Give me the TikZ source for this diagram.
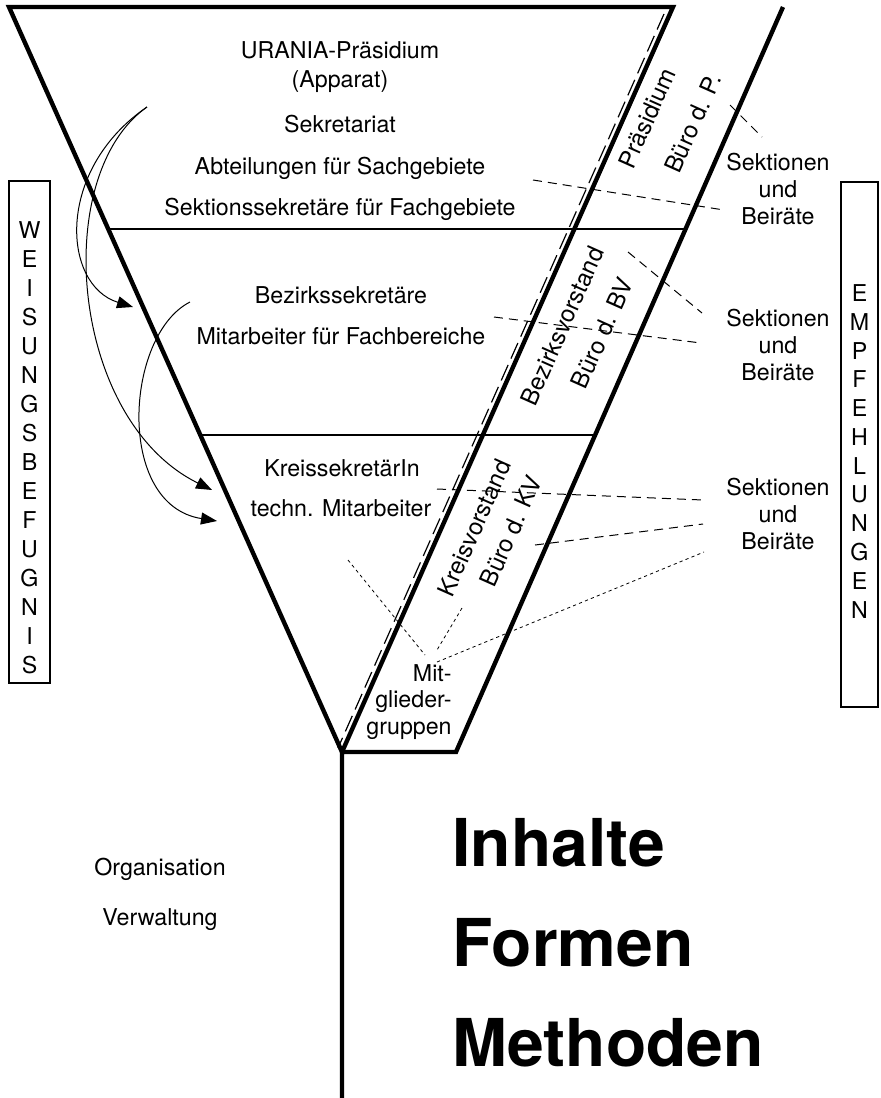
\documentclass[tikz,border=0pt]{standalone}
\usepackage{fontspec}
\setmainfont{TeX Gyre Heros}
\usetikzlibrary{arrows.meta, calc}

\begin{document}
\begin{tikzpicture}[x = 0.5pt, y = -0.5pt,
	every node/.style = {inner sep = 0pt, font = \fontsize{11.6}{13.3}\selectfont},
	funnel/.style = {line width = 2.2pt, line join = miter},
	level/.style = {line width = 1.3pt},
	frame/.style = {line width = 1pt},
	guide/.style = {line width = 0.6pt, dash pattern = on 8.5pt off 3.5pt},
	ratline/.style = {line width = 0.5pt, dash pattern = on 4.5pt off 3pt},
	ratdots/.style = {line width = 0.4pt, dash pattern = on 1.6pt off 1.6pt},
	order/.style = {line width = 0.5pt, -{Triangle[length = 8pt, width = 6pt]}},
	band/.style = {rotate = 66, font = \fontsize{12}{14}\selectfont},
	title/.style = {anchor = base west, font = \fontsize{33}{40}\selectfont\bfseries}]

	\useasboundingbox (0, 0) rectangle (880, 1098);

	% funnel
	\coordinate (tl) at (9, 7);
	\coordinate (tr) at (673, 7);
	\coordinate (tro) at (783, 7);
	\coordinate (v) at (342, 752);
	\coordinate (vr) at (456, 752);
	\coordinate (stem) at (342, 1098);

	\draw [funnel] (tl) -- (tr) -- (v) -- cycle;
	\draw [funnel] (tro) -- (vr) -- (v) -- (stem);
	\draw [level] ($(tl)!0.298!(v)$) -- ($(tro)!0.298!(vr)$);
	\draw [level] ($(tl)!0.5745!(v)$) -- ($(tro)!0.5745!(vr)$);
	\draw [guide] (664, 14) -- (338, 748);

	% levels
	\node [anchor = base] (praes) at (340, 58) {URANIA-Präsidium};
	\node [anchor = base] (apparat) at (340, 87) {(Apparat)};
	\node [anchor = base] (sekretariat) at (340, 132) {Sekretariat};
	\node [anchor = base] (abteilungen) at (340, 174) {Abteilungen für Sachgebiete};
	\node [anchor = base] (sektsek) at (340, 215) {Sektionssekretäre für Fachgebiete};
	\node [anchor = base] (bezsek) at (341, 303) {Bezirkssekretäre};
	\node [anchor = base] (mitfach) at (341, 344) {Mitarbeiter für Fachbereiche};
	\node [anchor = base] (kreissek) at (342, 476) {KreissekretärIn};
	\node [anchor = base] (techn) at (341, 516) {techn. Mitarbeiter};
	\node [anchor = north east, align = right] (mitglied) at (452, 664) {Mit-\\glieder-\\gruppen};

	\node [band] (praesband) at (647, 118) {Präsidium};
	\node [band] (bueroP) at (693, 123) {Büro d. P.};
	\node [band] (bezvor) at (562, 326) {Bezirksvorstand};
	\node [band] (bueroBV) at (602, 333) {Büro d. BV};
	\node [band] (kreisvor) at (474, 528) {Kreisvorstand};
	\node [band] (bueroKV) at (511, 531) {Büro d. KV};

	\node [align = center] (sek1) at (778, 189) {Sektionen\\und\\Beiräte};
	\node [align = center] (sek2) at (778, 345) {Sektionen\\und\\Beiräte};
	\node [align = center] (sek3) at (778, 514) {Sektionen\\und\\Beiräte};

	% side boxes
	\draw [frame] (9, 181) rectangle (50, 683);
	\foreach \ch [count = \i from 0] in {W, E, I, S, U, N, G, S, B, E, F, U, G, N, I, S}
		\node (weis\i) at (29.5, {230 + 29*\i}) {\ch};
	\draw [frame] (841, 182) rectangle (878, 707);
	\foreach \ch [count = \i from 0] in {E, M, P, F, E, H, L, U, N, G, E, N}
		\node (empf\i) at (859.5, {293 + 28.8*\i}) {\ch};

	% instructions
	\coordinate (w1) at (147, 107);
	\coordinate (w2) at (190, 302);
	\coordinate (a1) at (133, 307);
	\coordinate (a2) at (212, 490);
	\coordinate (a3) at (217, 521);
	\draw [order] (w1) .. controls (55, 170) and (62, 285) .. (a1);
	\draw [order] (w1) .. controls (50, 175) and (70, 420) .. (a2);
	\draw [order] (w2) .. controls (125, 335) and (115, 505) .. (a3);

	% recommendations
	\coordinate (r1) at (533, 180);
	\coordinate (r1e) at (724, 210);
	\coordinate (r2) at (730, 105);
	\coordinate (r2e) at (762, 137);
	\coordinate (r3) at (628, 252);
	\coordinate (r3e) at (702, 313);
	\coordinate (r4) at (494, 317);
	\coordinate (r4e) at (701, 343);
	\coordinate (r5) at (437, 489);
	\coordinate (r5e) at (703, 500);
	\coordinate (r6) at (535, 545);
	\coordinate (r6e) at (703, 524);
	\coordinate (r7) at (437, 662);
	\coordinate (r7e) at (704, 552);
	\coordinate (m1) at (348, 560);
	\coordinate (m1e) at (425, 655);
	\coordinate (m2) at (462, 608);
	\coordinate (m2e) at (437, 650);
	\draw [ratline] (r1) -- (r1e);
	\draw [ratline] (r2) -- (r2e);
	\draw [ratline] (r3) -- (r3e);
	\draw [ratline] (r4) -- (r4e);
	\draw [ratline] (r5) -- (r5e);
	\draw [ratline] (r6) -- (r6e);
	\draw [ratdots] (r7) -- (r7e);
	\draw [ratdots] (m1) -- (m1e);
	\draw [ratdots] (m2) -- (m2e);

	% bottom
	\node [anchor = base] (organisation) at (160, 875) {Organisation};
	\node [anchor = base] (verwaltung) at (160, 925) {Verwaltung};
	\node [title] (inhalte) at (452, 866) {Inhalte};
	\node [title] (formen) at (452, 966) {Formen};
	\node [title] (methoden) at (452, 1066) {Methoden};

\end{tikzpicture}
\end{document}
